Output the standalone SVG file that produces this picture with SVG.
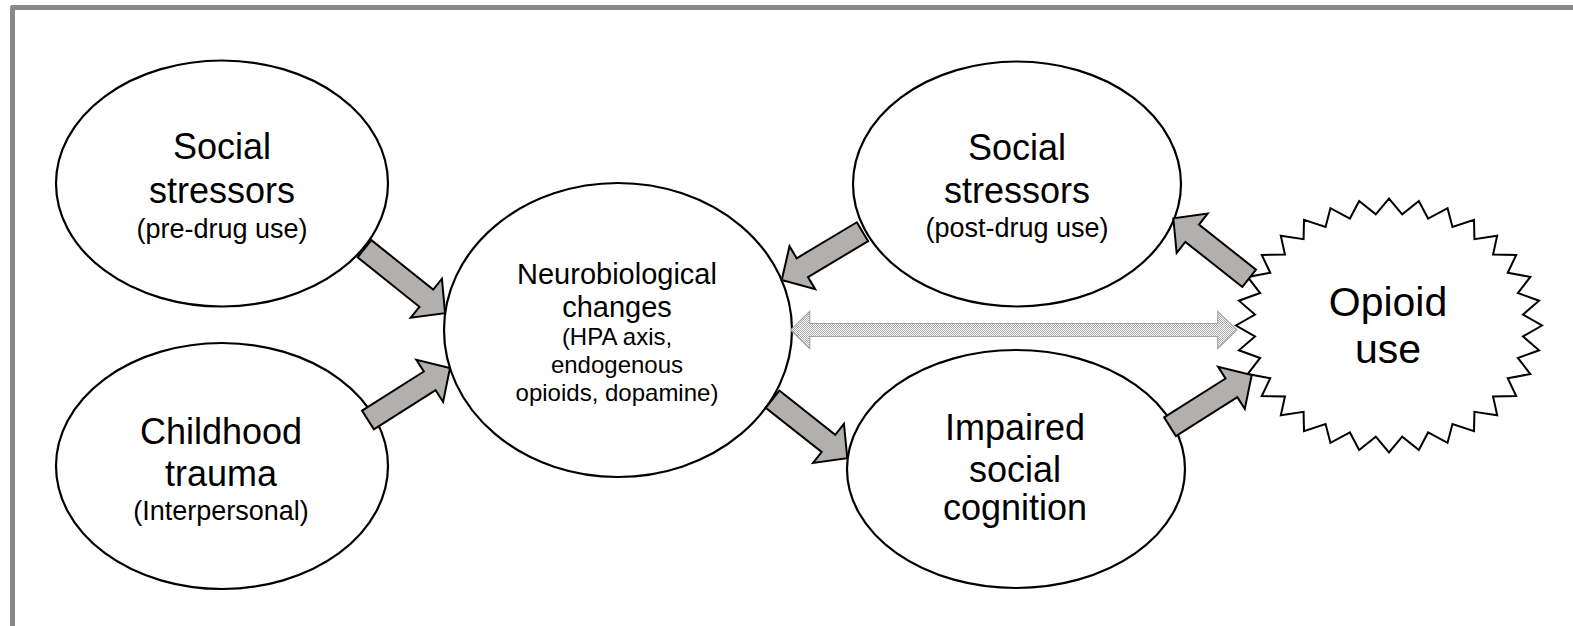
<svg xmlns="http://www.w3.org/2000/svg" width="1573" height="626" viewBox="0 0 1573 626">
  <style>
    .node { fill: #ffffff; stroke: #000000; stroke-width: 2.2; }
    .lbl { font-family: "Liberation Sans", Arial, sans-serif; fill: #000000; text-anchor: middle; }
    .big { font-size: 36px; }
    .sub { font-size: 27px; }
    .mid { font-size: 29px; }
    .small { font-size: 24px; }
    .block { fill: #b2b0ae; stroke: #000000; stroke-width: 2; stroke-linejoin: miter; }
    .dbl { fill: url(#dots); stroke: #a3a3a3; stroke-width: 1.2; }
  </style>
  <defs>
    <pattern id="dots" width="2" height="2" patternUnits="userSpaceOnUse">
      <rect width="2" height="2" fill="#ffffff"/>
      <rect width="1" height="1" fill="#a9a9a9"/>
      <rect x="1" y="1" width="1" height="1" fill="#a9a9a9"/>
    </pattern>
  </defs>

  <rect width="1573" height="626" fill="#ffffff"/>
  <!-- page frame (top and left edges) -->
  <path d="M12.5,626 V7.5 H1573" fill="none" stroke="#888888" stroke-width="5" stroke-linejoin="round"/>

  <g id="pre-stressors">
    <ellipse class="node" cx="222" cy="183.5" rx="166" ry="123"/>
    <text class="lbl big" x="222" y="159">Social</text>
    <text class="lbl big" x="222" y="203">stressors</text>
    <text class="lbl sub" x="222" y="238">(pre-drug use)</text>
  </g>

  <g id="childhood-trauma">
    <ellipse class="node" cx="222" cy="466" rx="166" ry="123"/>
    <text class="lbl big" x="221" y="444">Childhood</text>
    <text class="lbl big" x="221" y="486">trauma</text>
    <text class="lbl sub" x="221" y="520">(Interpersonal)</text>
  </g>

  <g id="neurobiological">
    <ellipse class="node" cx="618" cy="330" rx="174" ry="147"/>
    <text class="lbl mid" x="617" y="284">Neurobiological</text>
    <text class="lbl mid" x="617" y="317">changes</text>
    <text class="lbl small" x="617" y="345">(HPA axis,</text>
    <text class="lbl small" x="617" y="373">endogenous</text>
    <text class="lbl small" x="617" y="401">opioids, dopamine)</text>
  </g>

  <g id="post-stressors">
    <ellipse class="node" cx="1017" cy="184" rx="164" ry="122.5"/>
    <text class="lbl big" x="1017" y="160">Social</text>
    <text class="lbl big" x="1017" y="203">stressors</text>
    <text class="lbl sub" x="1017" y="237">(post-drug use)</text>
  </g>

  <g id="impaired-cognition">
    <ellipse class="node" cx="1016" cy="469" rx="169" ry="119"/>
    <text class="lbl big" x="1015" y="440">Impaired</text>
    <text class="lbl big" x="1015" y="482">social</text>
    <text class="lbl big" x="1015" y="520">cognition</text>
  </g>

  <g id="opioid-use">
    <polygon transform="translate(1389 325.5) scale(1.53 1.27)" fill="#ffffff" stroke="#000000" stroke-width="2" vector-effect="non-scaling-stroke"
      points="100,0 87.58,8.63 98.08,19.51 84.21,25.54 92.39,38.27 77.61,41.48 83.15,55.56 68.02,55.83 70.71,70.71 55.83,68.02 55.56,83.15 41.48,77.61 38.27,92.39 25.54,84.21 19.51,98.08 8.63,87.58 0,100 -8.63,87.58 -19.51,98.08 -25.54,84.21 -38.27,92.39 -41.48,77.61 -55.56,83.15 -55.83,68.02 -70.71,70.71 -68.02,55.83 -83.15,55.56 -77.61,41.48 -92.39,38.27 -84.21,25.54 -98.08,19.51 -87.58,8.63 -100,0 -87.58,-8.63 -98.08,-19.51 -84.21,-25.54 -92.39,-38.27 -77.61,-41.48 -83.15,-55.56 -68.02,-55.83 -70.71,-70.71 -55.83,-68.02 -55.56,-83.15 -41.48,-77.61 -38.27,-92.39 -25.54,-84.21 -19.51,-98.08 -8.63,-87.58 0,-100 8.63,-87.58 19.51,-98.08 25.54,-84.21 38.27,-92.39 41.48,-77.61 55.56,-83.15 55.83,-68.02 70.71,-70.71 68.02,-55.83 83.15,-55.56 77.61,-41.48 92.39,-38.27 84.21,-25.54 98.08,-19.51 87.58,-8.63"/>
    <text class="lbl" style="font-size:41px" x="1388" y="316">Opioid</text>
    <text class="lbl" style="font-size:41px" x="1388" y="363">use</text>
  </g>

  <g id="connectors">
    <!-- block arrows: drawn along +x from the tail, then rotated into place -->
    <path class="block" transform="translate(364.5 248.7) rotate(38.7)" d="M0,-11 H79.2 V-25 L103.2,0 L79.2,25 V11 H0 Z"/>
    <path class="block" transform="translate(368 420) rotate(-32.4)" d="M0,-11 H73.1 V-25 L97.1,0 L73.1,25 V11 H0 Z"/>
    <path class="block" transform="translate(862.5 231.7) rotate(149.1)" d="M0,-11 H70.1 V-25 L94.1,0 L70.1,25 V11 H0 Z"/>
    <path class="block" transform="translate(772.5 399.2) rotate(38.3)" d="M0,-11 H71.3 V-25 L95.3,0 L71.3,25 V11 H0 Z"/>
    <path class="block" transform="translate(1249.2 278.3) rotate(-141.7)" d="M0,-11 H72.7 V-25 L96.7,0 L72.7,25 V11 H0 Z"/>
    <path class="block" transform="translate(1170 426.7) rotate(-32.3)" d="M0,-11 H72.7 V-25 L96.7,0 L72.7,25 V11 H0 Z"/>
    <!-- two-way link between the neurobiological node and opioid use -->
    <path class="dbl" d="M790.7,330 L809.7,311.5 V323.5 H1217.7 V311.5 L1236.7,330 L1217.7,348.5 V336.5 H809.7 V348.5 Z"/>
  </g>
</svg>
